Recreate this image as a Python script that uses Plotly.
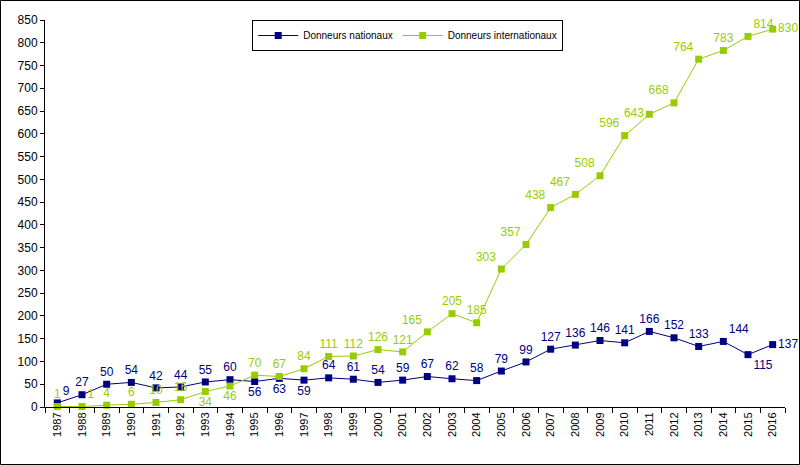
import plotly.graph_objects as go

years = [str(y) for y in range(1987, 2017)]

nationaux = [9, 27, 50, 54, 42, 44, 55, 60, 56, 63, 59, 64, 61, 54, 59,
             67, 62, 58, 79, 99, 127, 136, 146, 141, 166, 152, 133, 144, 115, 137]
internationaux = [1, 1, 4, 6, 10, 16, 34, 46, 70, 67, 84, 111, 112, 126, 121,
                  165, 205, 185, 303, 357, 438, 467, 508, 596, 643, 668, 764, 783, 814, 830]

# where each value label sits relative to its point
pos_nat = ['top center'] * 30
pos_nat[0] = 'top right'
for i in (8, 9, 10):
  pos_nat[i] = 'bottom center'
pos_nat[27] = 'top right'
pos_nat[28] = 'bottom right'
pos_nat[29] = 'middle right'

pos_int = ['top center'] * 30
pos_int[1] = 'top right'
pos_int[6] = 'bottom center'
pos_int[7] = 'bottom center'
pos_int[15] = 'top left'
for i in range(18, 27):
  pos_int[i] = 'top left'
pos_int[24] = 'middle left'
pos_int[28] = 'top right'
pos_int[29] = 'middle right'

NAVY = '#000080'
GREEN = '#99CC00'

fig = go.Figure()
fig.add_trace(go.Scatter(
  x=years, y=nationaux, name='Donneurs nationaux',
  mode='lines+markers+text', text=[str(v) for v in nationaux],
  textposition=pos_nat, textfont=dict(color=NAVY, size=12),
  line=dict(color=NAVY, width=1), marker=dict(symbol='square', size=7, color=NAVY),
  cliponaxis=False))
fig.add_trace(go.Scatter(
  x=years, y=internationaux, name='Donneurs internationaux',
  mode='lines+markers+text', text=[str(v) for v in internationaux],
  textposition=pos_int, textfont=dict(color=GREEN, size=12),
  line=dict(color=GREEN, width=1), marker=dict(symbol='square', size=7, color=GREEN),
  cliponaxis=False))

# frame round the whole picture
fig.add_shape(type='rect', xref='paper', yref='paper',
              x0=(0.5 - 45) / 740, x1=(799.5 - 45) / 740,
              y0=(407 - 464.5) / 387, y1=(407 - 0.5) / 387,
              line=dict(color='black', width=1), layer='below')

fig.update_layout(
  width=800, height=465,
  margin=dict(l=45, r=15, t=20, b=58),
  paper_bgcolor='white', plot_bgcolor='white',
  font=dict(family='Liberation Sans, Arial', size=11, color='black'),
  showlegend=True,
  legend=dict(orientation='h', x=0.28, y=1.0, xanchor='left', yanchor='top',
              bordercolor='black', borderwidth=1, font=dict(size=10),
              itemwidth=40, tracegroupgap=0),
)
fig.update_xaxes(type='category', range=[-0.5, 29.5], tickangle=-90,
                 showline=True, linecolor='black', ticks='outside',
                 tickson='boundaries', ticklen=5, tickcolor='black',
                 showgrid=False, tickfont=dict(size=11))
fig.update_yaxes(range=[0, 850], dtick=50, showline=True, linecolor='black',
                 ticks='outside', ticklen=4, tickcolor='black', showgrid=False,
                 zeroline=False, tickfont=dict(size=12))

fig.write_html("out.html", config={'displayModeBar': False},
               post_script="document.body.style.margin='0';")
